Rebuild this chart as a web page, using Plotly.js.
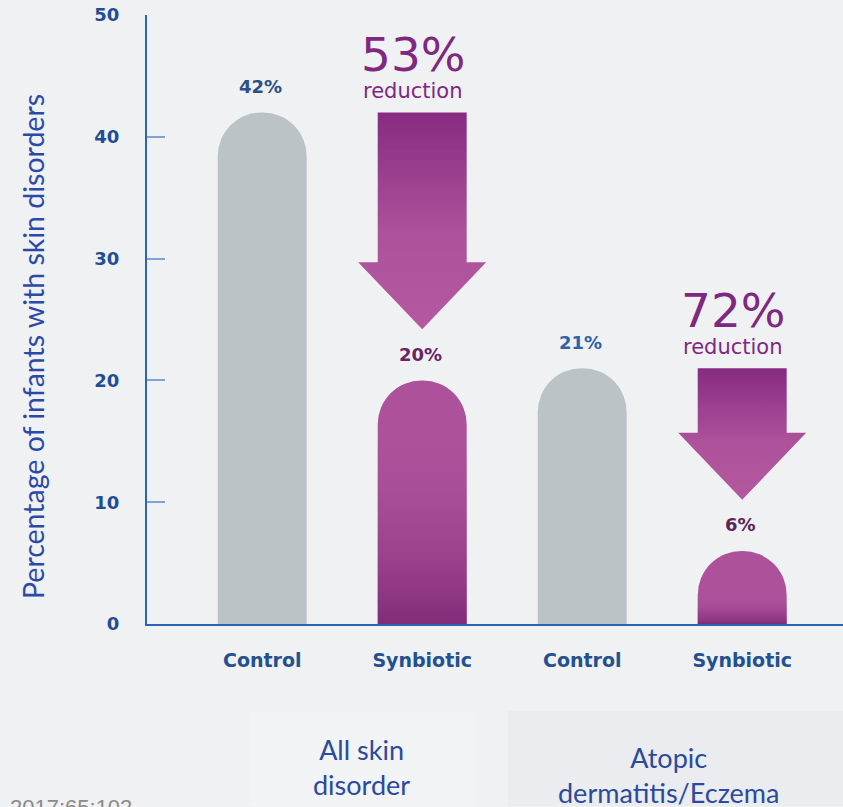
<!DOCTYPE html>
<html>
<head>
<meta charset="utf-8">
<script src="https://cdn.plot.ly/plotly-3.0.1.min.js"></script>
<style>
html,body{margin:0;padding:0;background:#eff1f3;}
#chart{width:843px;height:807px;}
</style>
</head>
<body>
<div id="chart"></div>
<script>
// ---- data ----
const categories = ['Control', 'Synbiotic', 'Control', 'Synbiotic'];
const values = [42, 20, 21, 6];
const valueLabels = ['42%', '20%', '21%', '6%'];
const groups = ['All skin<br>disorder', 'Atopic<br>dermatitis/Eczema'];
const reductions = ['53%', '72%'];
const yTicks = [0, 10, 20, 30, 40, 50];
const yTitle = 'Percentage of infants with skin disorders';
const footnote = '2017;65:102';

// ---- style ----
const xIdx = categories.map((c, i) => i);
const barWidth = 0.556;
const grey = '#bcc3c6';
const purple = '#ad519b';
const barColors = categories.map(c => c === 'Control' ? grey : purple);
const labelColors = ['#2d4f86', '#6a2466', '#2f63a8', '#5e2458'];
const axisBlue = '#2a64b3';
const textPurple = '#80287f';

const traces = [];
traces.push({
  type: 'bar', x: xIdx, y: values, width: barWidth,
  marker: {color: barColors, cornerradius: '50%', line: {width: 0}},
  hoverinfo: 'skip', showlegend: false
});

// dark gradient at the bottom of the synbiotic bars
const radiusUnits = 3.6;
categories.forEach((c, i) => {
  if (c !== 'Synbiotic') return;
  const top = Math.max(values[i] - radiusUnits, 0);
  const x0 = i - barWidth / 2, x1 = i + barWidth / 2;
  traces.push({
    type: 'scatter', mode: 'none', x: [x0, x1, x1, x0, x0], y: [0, 0, top, top, 0],
    fill: 'toself',
    fillgradient: {type: 'vertical', start: 0, stop: top,
      colorscale: [[0, 'rgba(115,32,110,0.75)'], [1, 'rgba(173,81,155,0)']]},
    hoverinfo: 'skip', showlegend: false
  });
});

// reduction arrows: from control value down toward synbiotic value
const tipGap = 4.2, headLen = 5.5, headHalf = 0.4;
const annotations = [];
let g = 0;
categories.forEach((c, i) => {
  if (c !== 'Synbiotic') return;
  const T = values[i - 1];
  const P = values[i] + tipGap;
  const H = P + headLen;
  const w = barWidth / 2;
  traces.push({
    type: 'scatter', mode: 'none',
    x: [i - w, i + w, i + w, i + headHalf, i, i - headHalf, i - w, i - w],
    y: [T, T, H, H, P, H, H, T],
    fill: 'toself',
    fillgradient: {type: 'vertical', start: P, stop: T,
      colorscale: [[0, '#b4599f'], [0.45, '#ad519b'], [1, '#872b82']]},
    hoverinfo: 'skip', showlegend: false
  });
  annotations.push({x: i, y: T, xref: 'x', yref: 'y', text: reductions[g], showarrow: false,
    xshift: -9, yshift: 58, yanchor: 'middle',
    font: {family: 'DejaVu Sans', size: 47, color: textPurple}});
  annotations.push({x: i, y: T, xref: 'x', yref: 'y', text: 'reduction', showarrow: false,
    xshift: -9, yshift: 21, yanchor: 'middle',
    font: {family: 'DejaVu Sans', size: 21, color: textPurple}});
  g++;
});

// value labels
values.forEach((v, i) => {
  annotations.push({x: i, y: v, xref: 'x', yref: 'y', text: valueLabels[i], showarrow: false,
    xshift: -2, yshift: 26, yanchor: 'middle',
    font: {family: 'DejaVu Sans', size: 18, weight: 'bold', color: labelColors[i]}});
});

// group labels
const groupShift = [19, 6];
groups.forEach((t, k) => {
  annotations.push({x: 2 * k + 0.5, y: k === 0 ? -0.2348 : -0.2480, xref: 'x', yref: 'paper',
    text: t, showarrow: false, xshift: groupShift[k], yanchor: 'middle', align: 'center',
    font: {family: 'Lato', size: 27, color: '#2b4a9c'}});
});

// y title
annotations.push({x: -0.1638, y: 0.4565, xref: 'paper', yref: 'paper', text: yTitle,
  textangle: -90, showarrow: false, xanchor: 'center', yanchor: 'middle',
  font: {family: 'Lato', size: 28.5, color: '#2b4aa8'}});

// footnote
annotations.push({x: -0.1997, y: -0.2775, xref: 'paper', yref: 'paper', text: footnote,
  showarrow: false, xanchor: 'left', yanchor: 'top',
  font: {family: 'Liberation Sans', size: 22, color: '#8a8a8a'}});

const layout = {
  width: 843, height: 807,
  margin: {l: 147, r: 0, t: 15, b: 183},
  paper_bgcolor: '#eff1f3', plot_bgcolor: 'rgba(0,0,0,0)',
  showlegend: false,
  xaxis: {
    range: [-0.72, 3.63], tickvals: xIdx, ticktext: categories,
    showgrid: false, zeroline: false, showline: true, linecolor: axisBlue, linewidth: 2,
    ticks: '', ticklabelstandoff: 18,
    tickfont: {family: 'DejaVu Sans', size: 19, weight: 'bold', color: '#24508f'}
  },
  yaxis: {
    range: [0, 50], tickvals: yTicks, showgrid: false, zeroline: false,
    showline: true, linecolor: axisBlue, linewidth: 2,
    ticks: 'inside', ticklen: 18, tickwidth: 2, tickcolor: '#7ea3d4',
    ticklabelstandoff: 22,
    tickfont: {family: 'DejaVu Sans', size: 18, weight: 'bold', color: '#1f4e96'}
  },
  shapes: [
    {type: 'rect', xref: 'paper', yref: 'paper', x0: 0.1465, x1: 0.4727, y0: -0.2989, y1: -0.1445,
      fillcolor: '#f2f3f5', line: {width: 0}, layer: 'below'},
    {type: 'rect', xref: 'paper', yref: 'paper', x0: 0.5187, x1: 1, y0: -0.2989, y1: -0.1428,
      fillcolor: '#eaecef', line: {width: 0}, layer: 'below'}
  ],
  annotations: annotations
};

Plotly.newPlot('chart', traces, layout, {displayModeBar: false, staticPlot: true});
</script>
</body>
</html>
